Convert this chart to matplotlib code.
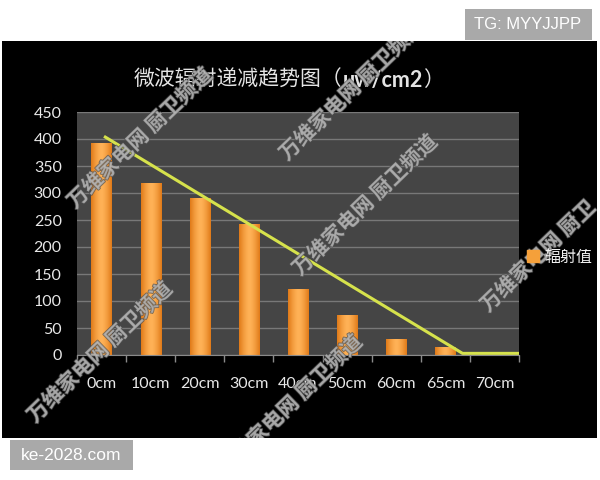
import matplotlib
matplotlib.use('Agg')
import matplotlib.pyplot as plt
import matplotlib.patheffects as pe
import numpy as np
from matplotlib.patches import Rectangle, Patch
from matplotlib.colors import LinearSegmentedColormap

# ---- data ----
categories = ['0cm', '10cm', '20cm', '30cm', '40cm', '50cm', '60cm', '65cm', '70cm']
values = [392, 318, 291, 243, 123, 75, 29, 14, 0]
trend_pos = [0.05, 7.35, 8.5]
trend_val = [405, 3, 3]
yticks = [0, 50, 100, 150, 200, 250, 300, 350, 400, 450]
title_parts = ['微波辐射递减趋势图（', 'uw/cm2', '）']
legend_label = '辐射值'
watermarks = ['万维家电网 厨卫频道', '万维家电网 厨卫频道', '万维家电网 厨卫频道',
              '万维家电网 厨卫', '万维家电网 厨卫频道', '万维家电网 厨卫频道']
wm_centers = [(140, 138), (100, 352), (365, 205), (538, 256), (290, 405), (352, 90)]
tag_top = 'TG: MYYJJPP'
tag_bottom = 'ke-2028.com'

W, H = 600, 480
cjk = ['Noto Sans CJK SC', 'DejaVu Sans']
num_font = ['Lato', 'DejaVu Sans']

fig = plt.figure(figsize=(6, 4.8), dpi=100, facecolor='white')

photo = Rectangle((2 / W, 1 - 438 / H), 595 / W, 397 / H, transform=fig.transFigure,
                  facecolor='black', edgecolor='none', zorder=-5)
fig.patches.append(photo)

ax = fig.add_axes([77 / W, 1 - 355 / H, 442 / W, 243 / H])
ax.set_facecolor('#454545')
x = np.arange(len(categories))
bars = ax.bar(x, values, width=0.41, color='#F39A2E', zorder=3)

prof = np.linspace(0, 1, 60)
prof = 1 - np.abs(prof * 2 - 1) ** 1.5
cmap = LinearSegmentedColormap.from_list('o', ['#E07A18', '#FFB257'])
for b in bars:
    if b.get_height() <= 0:
        continue
    x0, y0, w, h = b.get_x(), b.get_y(), b.get_width(), b.get_height()
    im = ax.imshow(prof[None, :], cmap=cmap, vmin=0, vmax=1, aspect='auto',
                   extent=[x0, x0 + w, y0, y0 + h], zorder=3.1, interpolation='bilinear')
    im.set_clip_path(b)

ax.plot(trend_pos, trend_val, color='#D6E24C', lw=2.2, zorder=5, solid_capstyle='butt')

ax.set_xlim(-0.5, len(categories) - 0.5)
ax.set_ylim(0, 450)
ax.set_yticks(yticks)
ax.set_xticks(x)
ax.set_xticklabels(categories, fontfamily=num_font)
ax.set_yticklabels([str(v) for v in yticks], fontfamily=num_font)
ax.set_xticks(np.arange(-0.5, len(categories), 1), minor=True)
ax.yaxis.grid(True, color='#787878', lw=1)
ax.set_axisbelow(True)
for s in ['top', 'left', 'right']:
    ax.spines[s].set_visible(False)
ax.spines['bottom'].set_color('#8a8a8a')
ax.spines['bottom'].set_zorder(6)
ax.tick_params(axis='x', which='major', length=0, pad=16, labelsize=11.5, labelcolor='#e8e8e8')
ax.tick_params(axis='x', which='minor', length=5, width=1, color='#8a8a8a', direction='out')
ax.tick_params(axis='y', length=0, pad=11, labelsize=11.5, labelcolor='#e8e8e8')

# title in three pieces (middle part bold)
renderer = fig.canvas.get_renderer()
styles = [dict(family=cjk, fontsize=15), dict(family=num_font, fontsize=15.5, fontweight='bold'),
          dict(family=cjk, fontsize=15)]
pieces = [fig.text(0, 1 - 80 / H, s, ha='left', va='center', color='#e4e4e4', **st)
          for s, st in zip(title_parts, styles)]
widths = [p.get_window_extent(renderer).width for p in pieces]
xpos = 289 - sum(widths) / 2
for p, wdt in zip(pieces, widths):
    p.set_x(xpos / W)
    xpos += wdt

for s, (cx, cy) in zip(watermarks, wm_centers):
    t = fig.text(cx / W, 1 - cy / H, s, rotation=44, ha='center', va='center',
                 rotation_mode='anchor', fontsize=15, fontweight='bold', color='#b8b8b8',
                 alpha=0.72, family=cjk, zorder=10)
    t.set_path_effects([pe.withStroke(linewidth=1.2, foreground='#505050')])
    t.set_clip_path(photo)

leg = fig.legend(handles=[Patch(facecolor='#F5A03A', edgecolor='#F5A03A')], labels=[legend_label],
                 loc='center left', bbox_to_anchor=(527 / W, 1 - 257 / H), bbox_transform=fig.transFigure,
                 frameon=False, handlelength=0.75, handleheight=0.75, handletextpad=0.35,
                 borderpad=0, borderaxespad=0, prop={'family': cjk, 'size': 11.5})
leg.set_zorder(11)
for t in leg.get_texts():
    t.set_color('#f0f0f0')

fig.patches.append(Rectangle((465 / W, 1 - 40 / H), 127 / W, 31 / H, transform=fig.transFigure,
                             facecolor='#a9a9a9', edgecolor='none', zorder=11))
fig.text(528 / W, 1 - 24.5 / H, tag_top, ha='center', va='center', fontsize=12,
         color='white', family=['Liberation Sans', 'DejaVu Sans'], zorder=12)
fig.patches.append(Rectangle((10 / W, 1 - 470 / H), 123 / W, 30 / H, transform=fig.transFigure,
                             facecolor='#a9a9a9', edgecolor='none', zorder=11))
fig.text(71.5 / W, 1 - 455.5 / H, tag_bottom, ha='center', va='center', fontsize=12.5,
         color='white', family=['Liberation Sans', 'DejaVu Sans'], zorder=12)

fig.savefig('out.png', dpi=100, facecolor='white')
